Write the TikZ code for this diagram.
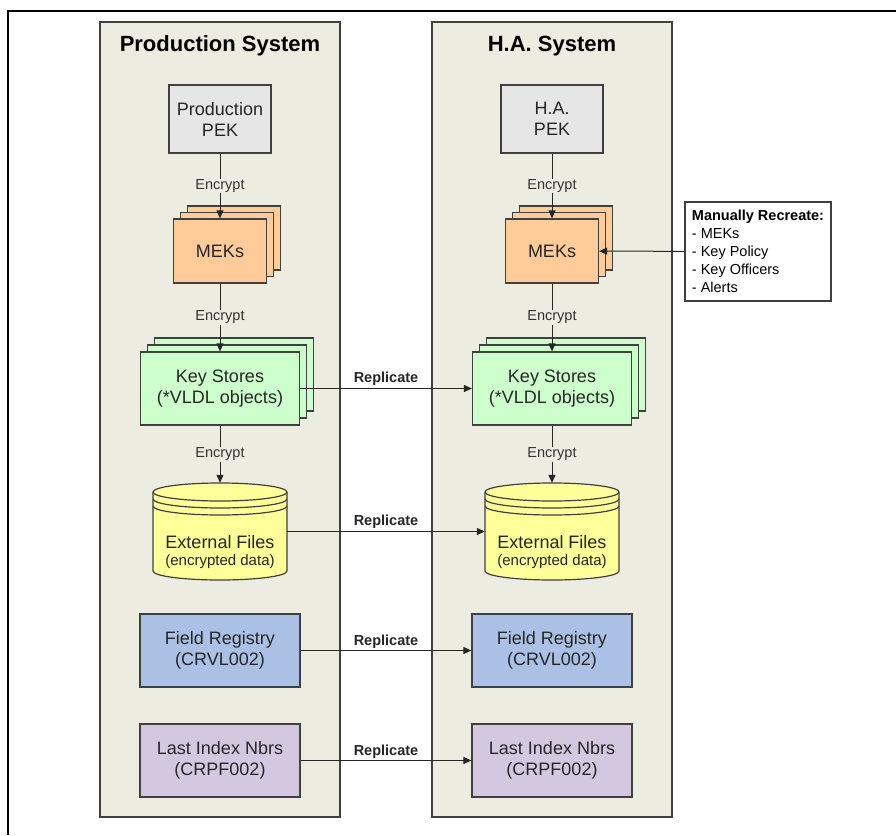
\documentclass[tikz,border=0pt]{standalone}
\usepackage{fontspec}
\setmainfont{Liberation Sans}
\usetikzlibrary{arrows.meta}
\definecolor{panelfill}{RGB}{236,236,224}
\definecolor{pekfill}{RGB}{230,230,230}
\definecolor{meksfill}{RGB}{255,204,153}
\definecolor{keysfill}{RGB}{204,255,204}
\definecolor{cylfill}{RGB}{255,255,153}
\definecolor{fieldfill}{RGB}{170,192,228}
\definecolor{lastfill}{RGB}{212,200,224}

\begin{document}
\begin{tikzpicture}[x=1pt,y=-1pt,
    panel/.style={draw=black!75,line width=1.2pt,fill=panelfill,minimum width=240pt,minimum height=795pt,inner sep=0pt},
    boxline/.style={draw=black!75,line width=1.2pt},
    box/.style={boxline,inner sep=0pt,align=center,text=black!85,font=\fontsize{18}{21}\selectfont},
    arr/.style={-{Triangle[length=8pt,width=7pt]},line width=1pt,black!85},
    enc/.style={fill=panelfill,inner sep=1pt,text=black!80,font=\fontsize{14.5}{16}\selectfont},
    rep/.style={above,inner sep=2pt,font=\bfseries\fontsize{14.5}{16}\selectfont}]
  \useasboundingbox (0,0) rectangle (896,835);
  \draw[line width=1.2pt] (8,835) -- (8,11) -- (896,11);
  \foreach \p/\x/\ttl/\pek in {a/0/Production System/Production,b/332/H.A. System/H.A.}
  {
    \node[panel] (panel\p) at (220+\x,419.5) {};
    \node[font=\bfseries\fontsize{22}{26}\selectfont] (title\p) at (220+\x,46) {\ttl};
    \node[box,fill=pekfill,minimum width=102pt,minimum height=68pt] (pek\p) at (220+\x,119) {\pek\\PEK};
    \foreach \k in {2,1}
      \draw[boxline,fill=meksfill] (173.5+\x+7*\k,219-6.5*\k) rectangle ++(93,64);
    \node[box,fill=meksfill,minimum width=93pt,minimum height=64pt] (meks\p) at (220+\x,251) {MEKs};
    \foreach \k in {2,1}
      \draw[boxline,fill=keysfill] (140.5+\x+7*\k,352-7*\k) rectangle ++(159,73);
    \node[box,fill=keysfill,minimum width=159pt,minimum height=73pt] (keys\p) at (220+\x,388.5) {Key Stores\\(*VLDL objects)};
    \node[minimum width=134pt,minimum height=97pt,inner sep=0pt] (ext\p) at (220+\x,531.5) {};
    \draw[boxline,fill=cylfill] (153+\x,492) -- ++(0,79) arc[start angle=180,end angle=360,x radius=67pt,y radius=9pt]
      -- ++(0,-79) arc[start angle=0,end angle=180,x radius=67pt,y radius=9pt] -- cycle;
    \foreach \r in {0,7,14}
      \draw[boxline] (153+\x,492+\r) arc[start angle=180,end angle=360,x radius=67pt,y radius=9pt];
    \node[align=center,text=black!85,font=\fontsize{18}{17.5}\selectfont] (extlbl\p) at (220+\x,552)
      {External Files\\{\fontsize{15}{17.5}\selectfont(encrypted data)}};
    \node[box,fill=fieldfill,minimum width=160pt,minimum height=73pt] (field\p) at (220+\x,650.5) {Field Registry\\(CRVL002)};
    \node[box,fill=lastfill,minimum width=160pt,minimum height=73pt] (last\p) at (220+\x,760.5) {Last Index Nbrs\\(CRPF002)};
    \draw[arr] (pek\p) -- node[enc] (encpek\p) {Encrypt} (meks\p);
    \draw[arr] (meks\p) -- node[enc] (encmeks\p) {Encrypt} (keys\p);
    \draw[arr] (keys\p) -- node[enc] (enckeys\p) {Encrypt} (ext\p);
  }
  \draw[arr] (keysa) -- node[rep] (repkeys) {Replicate} (keysb);
  \draw[arr] (exta) -- node[rep] (repext) {Replicate} (extb);
  \draw[arr] (fielda) -- node[rep] (repfield) {Replicate} (fieldb);
  \draw[arr] (lasta) -- node[rep] (replast) {Replicate} (lastb);
  \node[boxline,fill=white,align=left,minimum width=146pt,minimum height=99pt,inner sep=3pt,
    font=\fontsize{14.5}{18}\selectfont] (manual) at (758,251.5)
    {\textbf{Manually Recreate:}\\ - MEKs\\ - Key Policy\\ - Key Officers\\ - Alerts};
  \draw[arr] (manual) -- (meksb);
\end{tikzpicture}
\end{document}
